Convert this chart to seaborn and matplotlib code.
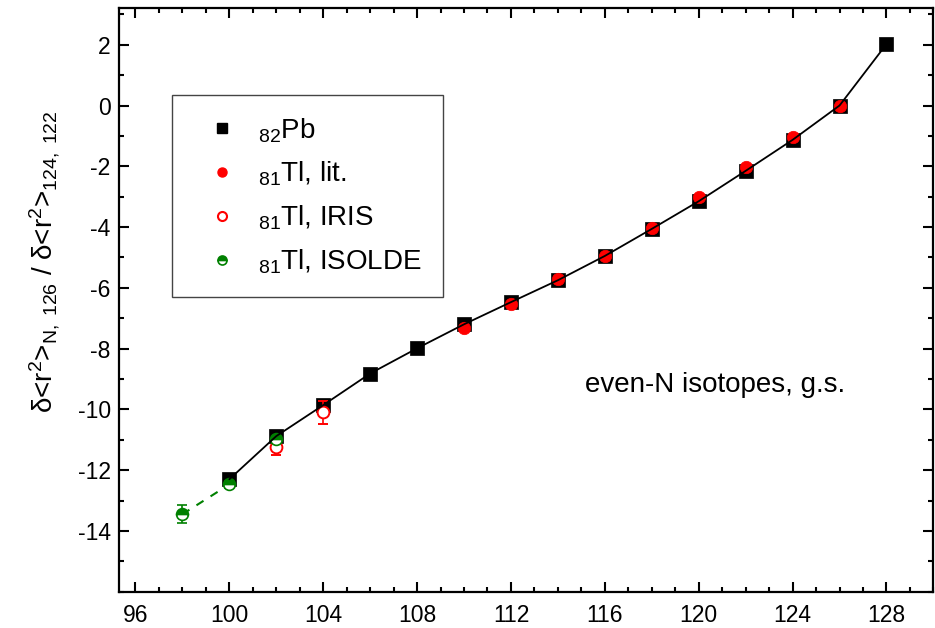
import matplotlib
matplotlib.use("Agg")
import matplotlib.pyplot as plt
from matplotlib.ticker import MultipleLocator
from matplotlib.lines import Line2D
import seaborn as sns
import pandas as pd

# ---- data ----
n_pb = [100, 102, 104, 106, 108, 110, 112, 114, 116, 118, 120, 122, 124, 126, 128]
pb = [-12.3, -10.88, -9.86, -8.82, -7.99, -7.2, -6.47, -5.75, -4.95, -4.06, -3.15, -2.15, -1.13, 0.0, 2.02]

n_lit = [110, 112, 114, 116, 118, 120, 122, 124, 126]
tl_lit = [-7.33, -6.53, -5.70, -4.96, -4.04, -3.01, -2.03, -1.05, 0.0]

n_iris = [102, 104]
tl_iris = [-11.24, -10.1]
err_iris = [0.25, 0.37]

n_isolde = [98, 100, 102]
tl_isolde = [-13.45, -12.47, -10.97]
err_isolde = [0.3, 0.12, 0.05]

x_ticks = [96, 100, 104, 108, 112, 116, 120, 124, 128]
y_ticks = [2, 0, -2, -4, -6, -8, -10, -12, -14]

sns.set_theme(style="ticks")
plt.rcParams["font.family"] = ["Liberation Sans", "DejaVu Sans"]
plt.rcParams["mathtext.fontset"] = "custom"
plt.rcParams["mathtext.rm"] = "Liberation Sans"
plt.rcParams["mathtext.it"] = "Liberation Sans:italic"
plt.rcParams["mathtext.bf"] = "Liberation Sans:bold"
plt.rcParams["mathtext.sf"] = "Liberation Sans"
for k in ["text.color", "axes.labelcolor", "xtick.color", "ytick.color", "axes.edgecolor"]:
    plt.rcParams[k] = "black"

GREEN = "#008000"
RED = "#ff0000"

fig = plt.figure(figsize=(9.35, 6.28), dpi=100)
ax = fig.add_axes([0.1273, 0.0578, 0.871, 0.929])

df_pb = pd.DataFrame({"N": n_pb, "v": pb})
df_lit = pd.DataFrame({"N": n_lit, "v": tl_lit})

# Pb squares
sns.scatterplot(data=df_pb, x="N", y="v", marker="s", s=90, color="black",
                edgecolor="black", linewidth=0.5, ax=ax, zorder=3, legend=False)
# Tl lit
sns.scatterplot(data=df_lit, x="N", y="v", marker="o", s=80, color=RED,
                edgecolor=RED, linewidth=0.5, ax=ax, zorder=4, legend=False)
# Tl IRIS
ax.errorbar(n_iris, tl_iris, yerr=err_iris, fmt="o", ms=8.5, mfc="white", mec=RED,
            mew=1.4, ecolor=RED, elinewidth=1.2, capsize=3.6, capthick=1.2, zorder=5)
# Tl ISOLDE dashed connection + markers
sns.lineplot(x=n_isolde[:2], y=tl_isolde[:2], color=GREEN, lw=1.5, ax=ax,
             linestyle=(0, (4, 4)), zorder=4)
ax.errorbar(n_isolde, tl_isolde, yerr=err_isolde, fmt="o", ms=8.5, mfc=GREEN,
            mfcalt="white", fillstyle="top", mec=GREEN, mew=1.2, ecolor=GREEN,
            elinewidth=1.2, capsize=3.6, capthick=1.2, zorder=5)
# Pb line
sns.lineplot(data=df_pb, x="N", y="v", color="black", lw=1.3, ax=ax, zorder=6)

ax.set_xlim(95.3, 130)
ax.set_ylim(-16, 3.2)
ax.set_xticks(x_ticks)
ax.set_yticks(y_ticks)
ax.set_xticklabels([str(t) for t in x_ticks])
ax.set_yticklabels([str(t) for t in y_ticks])
ax.xaxis.set_minor_locator(MultipleLocator(1))
ax.yaxis.set_minor_locator(MultipleLocator(1))
ax.tick_params(which="both", direction="in", top=True, right=True, width=1.5,
               colors="black", labelsize=16.5)
ax.tick_params(which="major", length=7)
ax.tick_params(which="minor", length=3.5)
ax.tick_params(axis="x", pad=9)
ax.tick_params(axis="y", pad=6)
for sp in ax.spines.values():
    sp.set_visible(True)
    sp.set_linewidth(1.6)
    sp.set_color("black")

ax.set_xlabel("")
ax.set_ylabel("δ<r$^{2}$>$_{\\mathrm{N,\\ 126}}$ / δ<r$^{2}$>$_{\\mathrm{124,\\ 122}}$",
              fontsize=20)
ax.yaxis.set_label_coords(-0.07, 0.565)

ax.text(120.7, -9.2, "even-N isotopes, g.s.", fontsize=20, ha="center", va="center")

# legend
handles = [
    Line2D([], [], ls="none", marker="s", ms=7.5, mfc="black", mec="black"),
    Line2D([], [], ls="none", marker="o", ms=6.5, mfc=RED, mec=RED),
    Line2D([], [], ls="none", marker="o", ms=6.5, mfc="white", mec=RED, mew=1.5),
    Line2D([], [], ls="none", marker="o", ms=6.5, mfc=GREEN, mfcalt="white",
           fillstyle="top", mec=GREEN, mew=1.2),
]
labels = [r"$_{82}$Pb", r"$_{81}$Tl, lit.", r"$_{81}$Tl, IRIS", r"$_{81}$Tl, ISOLDE"]
leg = ax.legend(handles, labels, loc="upper left", bbox_to_anchor=(0.065, 0.851),
                fontsize=20, frameon=True, fancybox=False, framealpha=1,
                edgecolor="#444444", labelspacing=0.55, handletextpad=0.25,
                borderpad=0.75, borderaxespad=0, handlelength=2.1)
leg.get_frame().set_linewidth(1.0)

fig.savefig("out.png", dpi=100)
